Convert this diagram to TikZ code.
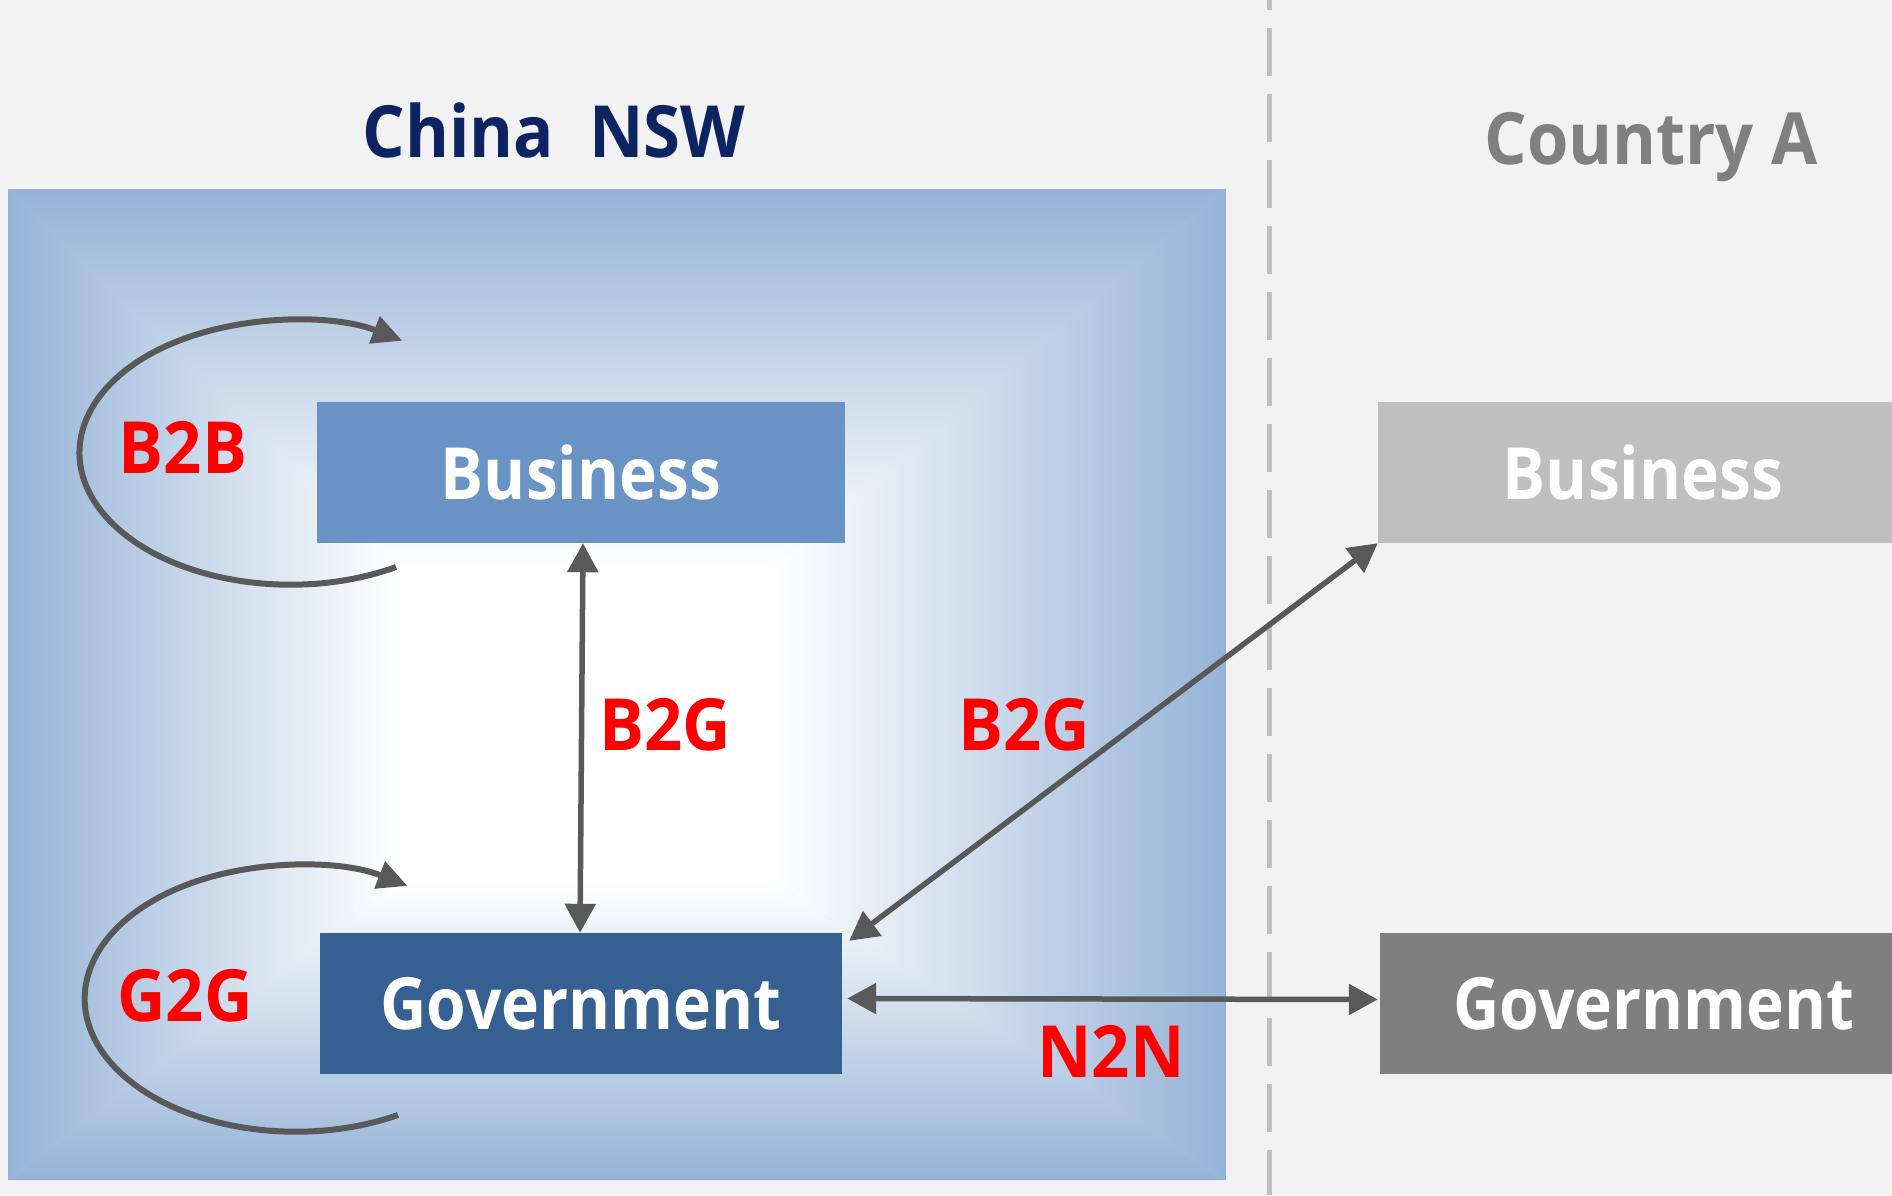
\documentclass[tikz,border=0pt]{standalone}
\usepackage{fontspec}
\newfontfamily\df[FakeStretch=0.89]{Open Sans}
\newfontfamily\lf[FakeStretch=0.93]{Open Sans}
\usetikzlibrary{arrows.meta}
\definecolor{bg}{HTML}{F2F2F2}
\definecolor{edgeblue}{HTML}{95B3D7}
\definecolor{midblue}{HTML}{C2D3E9}
\definecolor{bizc}{HTML}{6A93C5}
\definecolor{govc}{HTML}{366092}
\definecolor{biza}{HTML}{BFBFBF}
\definecolor{gova}{HTML}{7F7F7F}
\definecolor{navy}{HTML}{0C2461}
\definecolor{ctry}{HTML}{808080}
\definecolor{arrowgray}{HTML}{595959}
\definecolor{dashgray}{HTML}{BFBFBF}
\definecolor{lblred}{HTML}{FF0000}
\begin{document}
\begin{tikzpicture}[x=1pt,y=-1pt,
  boxtext/.style={font=\df\bfseries\fontsize{72}{80}\selectfont},
  bigtext/.style={font=\lf\bfseries\fontsize{72}{80}\selectfont},
  box/.style={boxtext, text=white, inner sep=0pt, minimum height=141pt},
  lbl/.style={bigtext, text=lblred, anchor=base, inner sep=0pt},
  conn/.style={draw=arrowgray, line width=5.5pt, {Triangle[length=29pt,width=30pt]}-{Triangle[length=29pt,width=30pt]}},
  loopconn/.style={draw=arrowgray, line width=6pt, -{Triangle[length=30pt,width=28pt]}}
]
\useasboundingbox (0,0) rectangle (1892,1195);
\fill[bg] (0,0) rectangle (1892,1195);
% divider
\draw[dashgray, line width=5pt, dash pattern=on 48pt off 18pt, dash phase=0pt] (1269,-38) -- (1269,1195);
% panel with rectangular gradient
\fill[midblue] (8,189) rectangle (1226,1180);
\shade[top color=edgeblue, bottom color=white] (8,189) -- (1226,189) -- (772,567) -- (398,567) -- cycle;
\shade[left color=edgeblue, right color=white] (8,189) -- (398,567) -- (398,881) -- (8,1180) -- cycle;
\shade[left color=white, right color=edgeblue] (1226,189) -- (772,567) -- (772,881) -- (1226,1180) -- cycle;
\shade[top color=white, bottom color=edgeblue] (398,881) -- (772,881) -- (1226,1180) -- (8,1180) -- cycle;
\fill[white] (398,567) rectangle (772,881);
% titles
\node[bigtext, text=navy, anchor=base, inner sep=0pt] (t1) at (554,157) {China\ \ NSW};
\node[bigtext, text=ctry, anchor=base, inner sep=0pt] (t2) at (1651,164) {Country A};
% boxes
\node[box, fill=bizc, minimum width=528pt] (cb) at (581,472.5) {Business};
\node[box, fill=govc, minimum width=522pt] (cg) at (581,1003.5) {Government};
\node[box, fill=biza, minimum width=530pt] (ba) at (1643,472.5) {Business};
\node[box, fill=gova, minimum width=548pt] (ga) at (1654,1003.5) {Government};
% labels
\node[lbl] (l1) at (183,473) {B2B};
\node[lbl] (l2) at (185,1021) {G2G};
\node[lbl] (l3) at (665,750) {B2G};
\node[lbl] (l4) at (1024,750) {B2G};
\node[lbl] (l5) at (1111,1077) {N2N};
% connectors
\draw[conn] ([xshift=2pt]cb.south) -- ([xshift=-1pt]cg.north);
\draw[conn] (ba.south west) -- ([shift={(7,8)}]cg.north east);
\draw[conn] ([shift={(5,-5)}]cg.east) -- ([shift={(-2,-4)}]ga.west);
% loops
\coordinate (s1) at (396,567);
\coordinate (s2) at (398,1115);
\draw[loopconn] (s1) arc[start angle=60, end angle=302, x radius=211, y radius=132];
\draw[loopconn] (s2) arc[start angle=61, end angle=302, x radius=211, y radius=133];
\end{tikzpicture}
\end{document}
